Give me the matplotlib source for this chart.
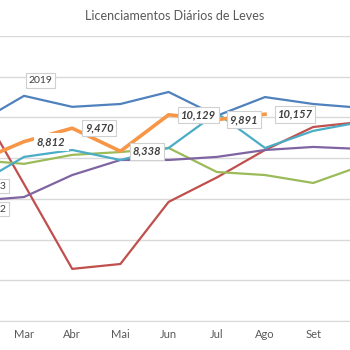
import matplotlib.pyplot as plt
import numpy as np

plt.rcParams['font.family'] = ['Lato', 'DejaVu Sans']

meses = ['Fev', 'Mar', 'Abr', 'Mai', 'Jun', 'Jul', 'Ago', 'Set', 'Out']

# valores diarios (Fev e Out ficam fora do recorte)
v2019 = [9680, 11060, 10520, 10660, 11250, 10080, 11000, 10660, 10470]
v2020 = [10860, 6730, 2560, 2800, 5850, 7050, 8400, 9530, 9780]
v2021 = [7910, 7720, 8160, 8300, 8500, 7320, 7170, 6780, 7620]
v2022 = [5900, 6090, 7170, 7910, 7910, 8060, 8400, 8550, 8450]
v2023 = [6680, 8060, 8400, 7910, 8500, 10220, 8500, 9340, 9780]
v2024 = [7810, 8812, 9470, 8338, 10129, 9891, 10157]

x = np.arange(len(meses))

fig = plt.figure(figsize=(3.5, 3.5), dpi=100)
ax = fig.add_axes([0, 29 / 350, 1, 285 / 350])

ax.plot(x, v2019, color='#4F81BD', lw=1.6, label='2019')
ax.plot(x, v2020, color='#C0504D', lw=1.6, label='2020')
ax.plot(x, v2021, color='#9BBB59', lw=1.6, label='2021')
ax.plot(x, v2022, color='#8064A2', lw=1.6, label='2022')
ax.plot(x, v2023, color='#4BACC6', lw=1.6, label='2023')
ax.plot(x[:len(v2024)], v2024, color='#F79646', lw=2.6, label='2024')

box = dict(boxstyle='square,pad=0.25', fc='white', ec='#d0d0d0', lw=0.8)

# rotulos de valor da serie atual (a partir de Mar)
for xi, v in zip(x[1:len(v2024)], v2024[1:]):
    b = box if xi > 1 else dict(box, ec='white')
    ax.annotate(f'{v:,}', (xi, v), xytext=(9, 0), textcoords='offset points',
                ha='left', va='center', fontsize=8, fontweight='bold',
                fontstyle='italic', color='#404040', bbox=b, zorder=5)

ax.annotate('2019', (1, v2019[1]), xytext=(12, 11), textcoords='offset points',
            ha='center', va='center', fontsize=7.5, color='#404040', bbox=box)

fig.text(6 / 350, 1 - 186 / 350, '2023', ha='right', va='center', fontsize=7.5,
         color='#404040', bbox=box)
fig.text(6 / 350, 1 - 209 / 350, '2022', ha='right', va='center', fontsize=7.5,
         color='#404040', bbox=box)

ax.set_yticks(np.arange(0, 14001, 2000))
ax.yaxis.grid(True, color='#d9d9d9', lw=1)
ax.set_axisbelow(True)
ax.set_xticks(x)
# Fev e Out caem fora da area recortada
ax.set_xticklabels([''] + meses[1:-1] + [''], fontsize=8, color='#595959')
ax.set_xlim(1 - 24 / 48.2, 1 + 326 / 48.2)
ax.set_ylim(0, 14000)
ax.tick_params(length=0, pad=6)
ax.tick_params(axis='y', labelleft=False)
for s in ['top', 'left', 'right']:
    ax.spines[s].set_visible(False)
ax.spines['bottom'].set_color('#d9d9d9')

fig.text(0.5, 1 - 16 / 350, 'Licenciamentos Diários de Leves', ha='center',
         va='center', fontsize=9, color='#595959')

fig.savefig('out.png', dpi=100)
